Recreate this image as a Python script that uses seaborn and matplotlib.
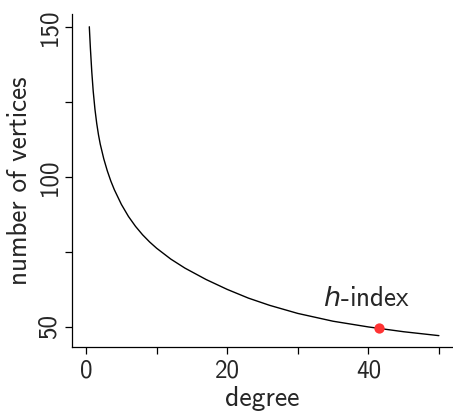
import matplotlib
matplotlib.use("Agg")
import matplotlib.pyplot as plt
import seaborn as sns
import pandas as pd

# values
degree = [0.45, 0.6, 0.8, 1.0, 1.25, 1.5, 1.75, 2.0, 2.5, 3.0, 3.5, 4, 5, 6, 7, 8,
          9, 10, 12, 14, 17, 20, 23, 26, 30, 35, 40, 45, 50]
vertices = [150, 143, 135, 128.6, 122.5, 117.8, 114.0, 110.9, 106.0, 102.0, 98.6,
            95.7, 90.8, 86.8, 83.5, 80.7, 78.3, 76.2, 72.6, 69.6, 65.8, 62.5, 59.6,
            57.2, 54.5, 51.9, 50.0, 48.4, 47.1]
h_degree = [41.5]
h_vertices = [49.6]

x_ticks = [0, 10, 20, 30, 40, 50]
x_labels = ["0", "", "20", "", "40", ""]
y_ticks = [50, 75, 100, 125, 150]
y_labels = ["50", "", "100", "", "150"]

sns.set_style("ticks")
plt.rcParams["font.family"] = ["cmss10", "DejaVu Sans"]
plt.rcParams["axes.formatter.use_mathtext"] = True
plt.rcParams["mathtext.fontset"] = "custom"
plt.rcParams["mathtext.it"] = "DejaVu Sans:italic"
plt.rcParams["mathtext.rm"] = "cmss10"

df = pd.DataFrame({"degree": degree, "vertices": vertices})

fig = plt.figure(figsize=(4.53, 4.2), dpi=100)
ax = fig.add_axes([0.159, 0.173, 0.841, 0.794])

sns.lineplot(data=df, x="degree", y="vertices", ax=ax, color="black", linewidth=1.0)
ax.scatter(h_degree, h_vertices, s=55, color="#ff3333", zorder=3, linewidths=0)
ax.text(39.8, 57.0, "$h$-index", ha="center", va="baseline", fontsize=19.5)

ax.set_xlim(-2.0, 52.0)
ax.set_ylim(43.2, 154.3)
ax.set_xticks(x_ticks)
ax.set_xticklabels(x_labels)
ax.set_yticks(y_ticks)
ax.set_yticklabels(y_labels, rotation=90, va="center")

ax.set_xlabel("degree", fontsize=20, labelpad=2)
ax.set_ylabel("number of vertices", fontsize=19.5, labelpad=4)
ax.tick_params(axis="both", labelsize=18, length=5, width=0.9, color="black")
ax.tick_params(axis="x", pad=4)
ax.tick_params(axis="y", pad=3)

for side in ["top", "right"]:
    ax.spines[side].set_visible(False)
for side in ["left", "bottom"]:
    ax.spines[side].set_color("black")
    ax.spines[side].set_linewidth(0.9)

fig.savefig("out.png", dpi=100)
plt.close(fig)
